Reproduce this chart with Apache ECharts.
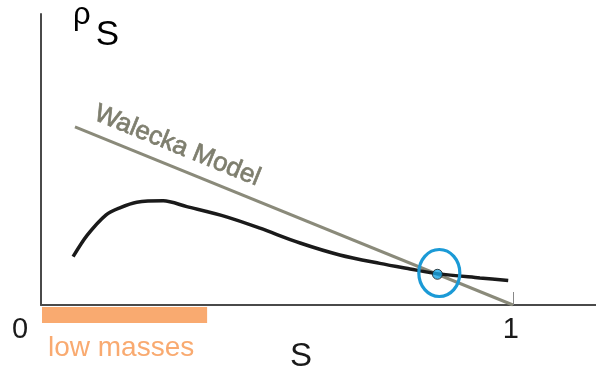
<!DOCTYPE html>
<html>
<head>
<meta charset="utf-8">
<script src="https://cdn.jsdelivr.net/npm/echarts@6/dist/echarts.min.js"></script>
<style>
  html, body { margin: 0; padding: 0; background: #fff; }
  #chart { width: 596px; height: 379px; }
</style>
</head>
<body>
<div id="chart"></div>
<script>
// Scalar density rho_S as a function of S
const sValues   = [0.068, 0.098, 0.138, 0.167, 0.203, 0.259, 0.309, 0.393, 0.464, 0.549, 0.633, 0.718, 0.782, 0.842, 0.930, 0.990];
const rhoValues = [0.166, 0.240, 0.310, 0.334, 0.353, 0.358, 0.338, 0.303, 0.264, 0.213, 0.172, 0.143, 0.124, 0.107, 0.093, 0.084];

// Walecka model: straight line reaching zero at S = 1
const waleckaS   = [0.072, 1.0];
const waleckaRho = [0.612, 0.0];
const waleckaLabel = 'Walecka Model';

// Crossing point of the two curves
const crossS   = [0.840];
const crossRho = [0.1055];

// Low-mass range along S
const lowMassRange = [0.0, 0.352];
const lowMassLabel = 'low masses';

// Axis ticks and labels
const xTickValues = [0, 1];
const xTickLabels = ['0', '1'];
const xAxisName = 'S';
const yAxisSymbol = 'ρ';
const yAxisSub = 'S';

const chart = echarts.init(document.getElementById('chart'), null, { renderer: 'canvas' });

const AXIS_COLOR = '#4a4a4a';
const FONT = 'Liberation Sans, Arial, sans-serif';

chart.setOption({
  animation: false,
  backgroundColor: '#ffffff',
  grid: { left: 41, right: 0, top: 14, bottom: 74, containLabel: false },
  xAxis: {
    type: 'value',
    min: 0,
    max: 1.176,
    splitLine: { show: false },
    axisLine: { show: true, onZero: false, lineStyle: { color: AXIS_COLOR, width: 2 } },
    axisTick: {
      show: true,
      customValues: [1],
      inside: true,
      length: 13,
      lineStyle: { color: '#888', width: 1 }
    },
    axisLabel: {
      show: true,
      customValues: xTickValues,
      margin: 10,
      color: '#1a1a1a',
      fontSize: 29,
      fontFamily: FONT,
      formatter: function (v) {
        const i = xTickValues.indexOf(v);
        const t = i >= 0 ? xTickLabels[i] : '';
        return v === 0 ? '{z|' + t + '}' : '{o|' + t + '}';
      },
      rich: {
        z: { fontSize: 29, fontFamily: FONT, color: '#1a1a1a', padding: [0, 42, 0, 0] },
        o: { fontSize: 29, fontFamily: FONT, color: '#1a1a1a', padding: [0, 4, 0, 0] }
      }
    }
  },
  yAxis: {
    type: 'value',
    min: 0,
    max: 1,
    splitLine: { show: false },
    axisLine: { show: true, onZero: false, lineStyle: { color: AXIS_COLOR, width: 2 } },
    axisTick: { show: false },
    axisLabel: { show: false }
  },
  graphic: [
    {
      type: 'text',
      left: 290,
      top: 340,
      style: { text: xAxisName, fontSize: 33, fontFamily: FONT, fill: '#1a1a1a' }
    },
    {
      type: 'text',
      left: 73,
      top: 0,
      style: {
        text: '{r|' + yAxisSymbol + '}{s|' + yAxisSub + '}',
        rich: {
          r: { fontSize: 31, fontFamily: FONT, color: '#1a1a1a', verticalAlign: 'top', padding: [0, 0, 14, 0] },
          s: { fontSize: 35, fontFamily: FONT, color: '#1a1a1a', padding: [18, 0, 0, 5] }
        }
      }
    }
  ],
  series: [
    {
      name: 'Walecka',
      type: 'line',
      data: waleckaS.map((s, i) => [s, waleckaRho[i]]),
      symbol: 'none',
      lineStyle: { color: '#8a8a7a', width: 3 },
      z: 2
    },
    {
      name: 'rhoS',
      type: 'line',
      data: sValues.map((s, i) => [s, rhoValues[i]]),
      symbol: 'none',
      smooth: 0.3,
      lineStyle: { color: '#1a1a1a', width: 3.5 },
      z: 3
    },
    {
      // rotated label following the Walecka line
      name: 'waleckaLabel',
      type: 'custom',
      data: [[0.272]],
      clip: false,
      z: 4,
      renderItem: function (params, api) {
        const a = api.coord([waleckaS[0], waleckaRho[0]]);
        const b = api.coord([waleckaS[1], waleckaRho[1]]);
        const s = api.value(0);
        const t = (s - waleckaS[0]) / (waleckaS[1] - waleckaS[0]);
        const p = api.coord([s, waleckaRho[0] + t * (waleckaRho[1] - waleckaRho[0])]);
        const ang = Math.atan2(b[1] - a[1], b[0] - a[0]);
        return {
          type: 'text',
          x: p[0],
          y: p[1],
          rotation: -ang,
          style: {
            text: waleckaLabel,
            x: 0,
            y: -8,
            align: 'center',
            verticalAlign: 'bottom',
            fontSize: 26,
            fontFamily: FONT,
            fill: '#7e7e6e',
            stroke: '#7e7e6e',
            lineWidth: 0.7
          }
        };
      }
    },
    {
      // low-mass band below the S axis
      name: 'lowMass',
      type: 'custom',
      data: [lowMassRange],
      clip: false,
      z: 4,
      renderItem: function (params, api) {
        const p0 = api.coord([api.value(0), 0]);
        const p1 = api.coord([api.value(1), 0]);
        return {
          type: 'group',
          children: [
            {
              type: 'rect',
              shape: { x: p0[0] + 1, y: p0[1] + 2, width: p1[0] - p0[0] - 1, height: 16 },
              style: { fill: '#f9aa70' }
            },
            {
              type: 'text',
              x: p0[0] + 7,
              y: p0[1] + 43,
              style: {
                text: lowMassLabel,
                align: 'left',
                verticalAlign: 'middle',
                fontSize: 28,
                fontFamily: FONT,
                fill: '#f9aa70'
              }
            }
          ]
        };
      }
    },
    {
      // circle marking the crossing
      name: 'crossRing',
      type: 'custom',
      data: [[0.844, 0.110]],
      clip: false,
      z: 5,
      renderItem: function (params, api) {
        const c = api.coord([api.value(0), api.value(1)]);
        return {
          type: 'ellipse',
          shape: { cx: c[0], cy: c[1], rx: 20.5, ry: 23.5 },
          style: { fill: 'none', stroke: '#1b9ad6', lineWidth: 3.2 }
        };
      }
    },
    {
      name: 'cross',
      type: 'scatter',
      data: crossS.map((s, i) => [s, crossRho[i]]),
      symbol: 'circle',
      symbolSize: 10,
      itemStyle: { color: '#1aa6e6', borderColor: '#1a1a1a', borderWidth: 1 },
      z: 6
    }
  ]
});
</script>
</body>
</html>
